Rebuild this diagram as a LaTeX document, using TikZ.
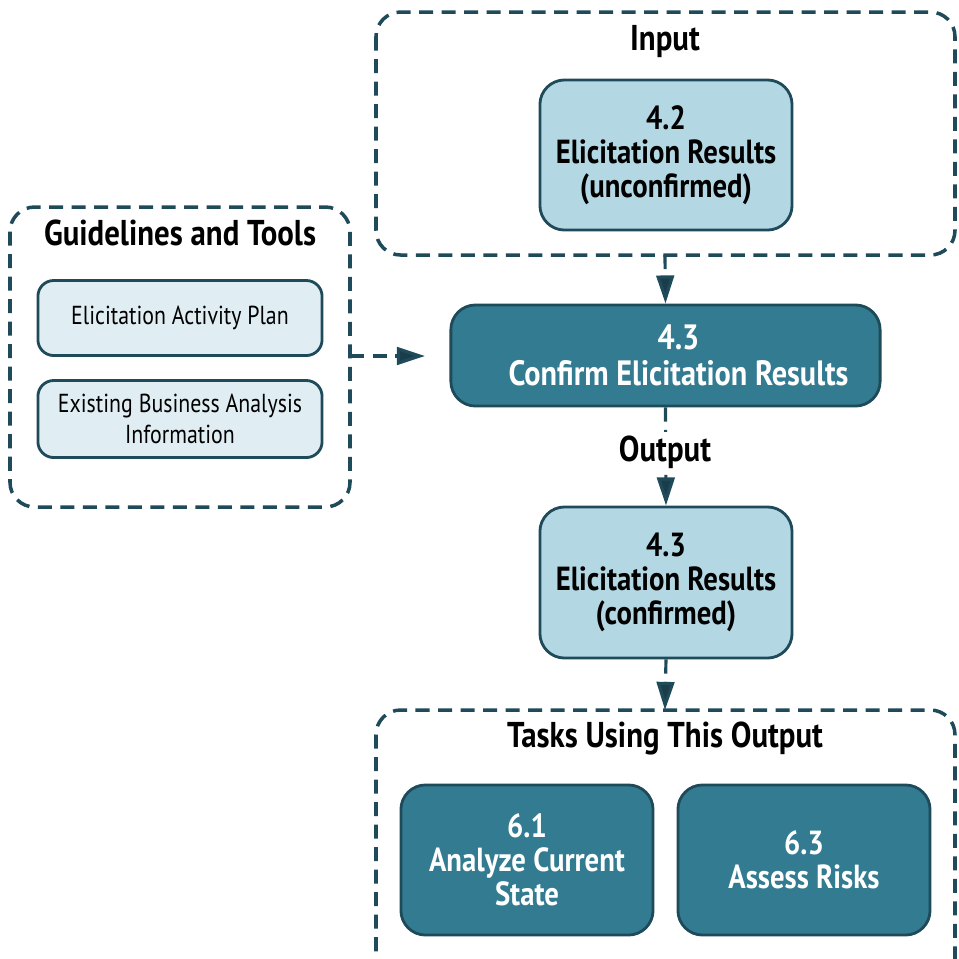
\documentclass[tikz,border=0pt]{standalone}
\usepackage{fontspec}
\setmainfont{PT Sans}[FakeStretch=0.86]
\newfontfamily\toolfont{PT Sans}[FakeStretch=0.84]
\usepackage{tikz}
\usetikzlibrary{arrows.meta}
\definecolor{edgeteal}{HTML}{1F4A5A}
\definecolor{headteal}{HTML}{1A3D4A}
\definecolor{resultblue}{HTML}{B3D8E3}
\definecolor{toolblue}{HTML}{E0EEF3}
\definecolor{taskteal}{HTML}{337B91}
\tikzset{
    groupbox/.style={draw=edgeteal, line width=1pt, dash pattern=on 4pt off 2.4pt, rounded corners=7pt},
    resultbox/.style={draw=edgeteal, line width=0.8pt, fill=resultblue, rounded corners=7pt, align=center, font=\fontsize{9.5}{9.6}\selectfont\bfseries},
    toolbox/.style={draw=edgeteal, line width=0.8pt, fill=toolblue, rounded corners=4.5pt, align=center, font=\toolfont\fontsize{7.4}{8.6}\selectfont},
    taskbox/.style={draw=edgeteal, line width=0.8pt, fill=taskteal, rounded corners=7pt, align=center, text=white, font=\fontsize{9.5}{9.6}\selectfont\bfseries},
    grouptitle/.style={font=\fontsize{10.2}{11}\selectfont\bfseries},
    flow/.style={draw=edgeteal, line width=0.9pt, dash pattern=on 4pt off 2.4pt, -{Triangle[length=8pt,width=5pt,fill=headteal]}}
}
\begin{document}
\begin{tikzpicture}[x=0.01cm, y=-0.01cm]
        \useasboundingbox (0, 0) rectangle (959, 959);
        \clip (0, 0) rectangle (959, 959);
        % Groups
        \draw [groupbox] (376, 12) rectangle (955, 255);
        \draw [groupbox] (10, 207) rectangle (350, 507);
        \draw [groupbox] (376, 710) rectangle (955, 985);
        \coordinate (inputfoot) at (665, 255);
        \coordinate (toolside) at (350, 356);
        \coordinate (taskhead) at (665, 710);
        \node [grouptitle] (inputtitle) at (665, 42) {Input};
        \node [grouptitle] (tooltitle) at (180, 233) {Guidelines and Tools};
        \node [grouptitle] (tasktitle) at (665, 738) {Tasks Using This Output};
        % Boxes
        \node [resultbox, minimum width=2.52cm, minimum height=1.5cm] (unconfirmed) at (666, 155) {4.2\\Elicitation Results\\(unconfirmed)};
        \node [toolbox, minimum width=2.84cm, minimum height=0.75cm] (plan) at (180, 318) {Elicitation Activity Plan};
        \node [toolbox, minimum width=2.84cm, minimum height=0.77cm] (existing) at (180, 419) {Existing Business Analysis\\Information};
        \node [taskbox, minimum width=4.29cm, minimum height=1.01cm, font=\fontsize{10}{10.3}\selectfont\bfseries] (confirm) at (665.5, 355.5) {\hspace{0.26cm}4.3\\\hspace{0.26cm}Confirm Elicitation Results};
        \node [resultbox, minimum width=2.52cm, minimum height=1.51cm] (confirmed) at (666, 582.5) {4.3\\Elicitation Results\\(confirmed)};
        \node [taskbox, minimum width=2.52cm, minimum height=1.5cm] (current) at (527, 860) {6.1\\Analyze Current\\State};
        \node [taskbox, minimum width=2.52cm, minimum height=1.5cm] (risks) at (804, 860) {6.3\\Assess Risks};
        % Arrows
        \draw [flow] (inputfoot) -- (confirm.north);
        \draw [flow] (toolside) -- (425, 356);
        \draw [flow] (confirm.south) -- (confirmed.north);
        \draw [flow] (confirmed.south) -- (taskhead);
        \node [grouptitle, fill=white, inner sep=1pt] (output) at (665, 452) {Output};
    \end{tikzpicture}
\end{document}
